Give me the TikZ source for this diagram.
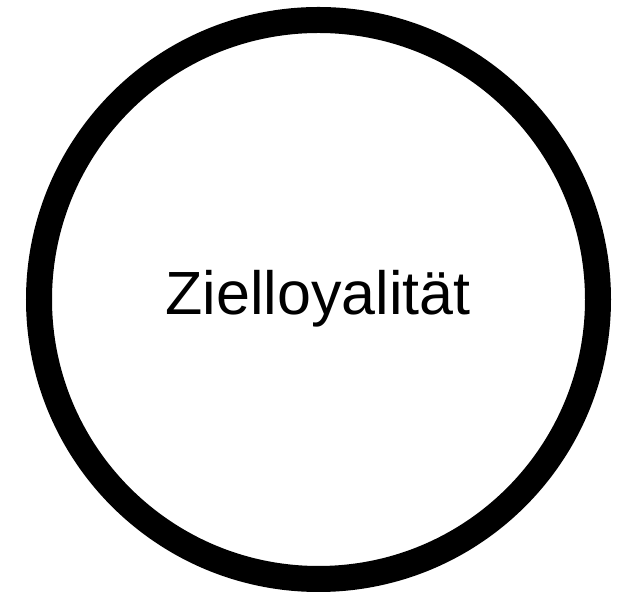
\documentclass[tikz,border=0pt]{standalone}
\usepackage{fontspec}
\setmainfont{Liberation Sans}
\tikzset{ring/.style={draw=black, line width=26pt, fill=white},
  label/.style={font=\fontsize{61}{70}\selectfont, anchor=base, inner sep=0pt}}
\begin{document}
\begin{tikzpicture}[x=1pt,y=1pt]
\useasboundingbox[fill=white] (0,0) rectangle (638,599);
\node[ring, circle, minimum size=559pt, inner sep=0pt] (c) at (318.5,299.5) {};
\node[label] (t) at (318,284) {Zielloyalität};
\end{tikzpicture}
\end{document}
